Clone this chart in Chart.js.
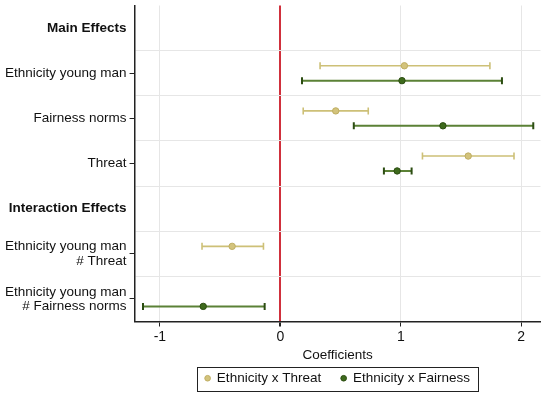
<!DOCTYPE html>
<html>
<head>
<meta charset="utf-8">
<script src="https://cdn.jsdelivr.net/npm/chart.js@4/dist/chart.umd.min.js"></script>
<style>
  html, body { margin: 0; padding: 0; background: #fff; }
  #wrap { width: 546px; height: 397px; }
</style>
</head>
<body>
<div id="wrap"><canvas id="c"></canvas></div>
<script>
// Row labels (index = row position on the y axis, top to bottom)
const rowLabels = ['Main Effects', 'Ethnicity young man', 'Fairness norms', 'Threat', 'Interaction Effects', ['Ethnicity young man', '# Threat'], ['Ethnicity young man', '# Fairness norms']];
const headerRows = [0, 4];
// Coefficient rows (y positions) for the estimates
const coefRows = [1, 2, 3, 5, 6];
// Series: Ethnicity x Threat
const threatEst = [1.03, 0.46, 1.56, -0.40, null];
const threatLo  = [0.33, 0.19, 1.18, -0.65, null];
const threatHi  = [1.74, 0.73, 1.94, -0.14, null];
// Series: Ethnicity x Fairness
const fairEst = [1.01, 1.35, 0.97, null, -0.64];
const fairLo  = [0.18, 0.61, 0.86, null, -1.14];
const fairHi  = [1.84, 2.10, 1.09, null, -0.13];
// X ticks
const xTicks = [-1, 0, 1, 2];
const seriesNames = ['Ethnicity x Threat', 'Ethnicity x Fairness'];

const OFF = 0.165;
const tanLine = '#cdc077', tanPt = '#d3c37c', tanBorder = '#bfae63';
const grnLine = '#5b8136', grnPt = '#3e6a1c', grnBorder = '#2c4d12';

function ciData(lo, hi, off) {
  const out = [];
  coefRows.forEach((r, i) => {
    if (lo[i] === null) return;
    out.push({x: lo[i], y: r + off}, {x: hi[i], y: r + off}, {x: null, y: null});
  });
  return out;
}
function estData(est, off) {
  const out = [];
  coefRows.forEach((r, i) => { if (est[i] !== null) out.push({x: est[i], y: r + off}); });
  return out;
}

const FONT = "'Liberation Sans', Arial, sans-serif";

const legendBox = {
  id: 'legendBox',
  afterDraw(chart) {
    const lg = chart.legend;
    if (!lg || !lg.legendHitBoxes || !lg.legendHitBoxes.length) return;
    const hb = lg.legendHitBoxes;
    const l = Math.min(...hb.map(b => b.left)) - 8;
    const r = Math.max(...hb.map(b => b.left + b.width)) + 8;
    const t = Math.min(...hb.map(b => b.top)) - 5;
    const btm = Math.max(...hb.map(b => b.top + b.height)) + 5;
    const ctx = chart.ctx;
    ctx.save();
    ctx.strokeStyle = '#222';
    ctx.lineWidth = 1;
    ctx.strokeRect(Math.round(l) + 0.5, Math.round(t) + 0.5, Math.round(r - l), Math.round(btm - t));
    ctx.restore();
  }
};

new Chart(document.getElementById('c'), {
  type: 'scatter',
  data: {
    datasets: [
      { type: 'line', label: 'ci-threat', data: ciData(threatLo, threatHi, -OFF), borderColor: tanLine, borderWidth: 1.6,
        spanGaps: false, pointStyle: 'line', pointRotation: 90, pointRadius: 3.5, pointBorderWidth: 1.6, pointBorderColor: tanLine, pointHoverRadius: 3.5, order: 3 },
      { type: 'line', label: 'ci-fair', data: ciData(fairLo, fairHi, OFF), borderColor: grnLine, borderWidth: 2,
        spanGaps: false, pointStyle: 'line', pointRotation: 90, pointRadius: 3.5, pointBorderWidth: 2, pointBorderColor: grnBorder, pointHoverRadius: 3.5, order: 3 },
      { label: seriesNames[0], data: estData(threatEst, -OFF), pointStyle: 'circle', pointRadius: 3.2,
        backgroundColor: tanPt, borderColor: tanBorder, borderWidth: 1, order: 1 },
      { label: seriesNames[1], data: estData(fairEst, OFF), pointStyle: 'circle', pointRadius: 3.2,
        backgroundColor: grnPt, borderColor: grnBorder, borderWidth: 1, order: 1 }
    ]
  },
  options: {
    responsive: true,
    maintainAspectRatio: false,
    animation: false,
    layout: { padding: { left: 2, right: 5, top: 5, bottom: 2 } },
    plugins: {
      tooltip: { enabled: false },
      legend: {
        position: 'bottom',
        fullSize: false,
        labels: {
          filter: (item) => seriesNames.includes(item.text),
          usePointStyle: true, boxWidth: 5, boxHeight: 4, padding: 20,
          color: '#111', font: { family: FONT, size: 13.5 }
        }
      }
    },
    scales: {
      x: {
        type: 'linear', min: -1.21, max: 2.16,
        afterBuildTicks: (s) => { s.ticks = xTicks.map(v => ({value: v})); },
        ticks: { color: '#111', font: { family: FONT, size: 14 }, padding: 2 },
        grid: {
          color: (c) => (c.tick && c.tick.value === 0) ? '#d0303c' : '#e6e6e6',
          lineWidth: (c) => (c.tick && c.tick.value === 0) ? 2 : 1,
          tickColor: '#222', tickLength: 5, drawTicks: true
        },
        border: { display: true, color: '#222', width: 1.5 },
        title: { display: true, text: 'Coefficients', color: '#111', font: { family: FONT, size: 13.5 }, padding: { top: 0, bottom: -12 } }
      },
      y: {
        type: 'linear', min: -0.5, max: 6.5, reverse: true,
        afterBuildTicks: (s) => {
          const t = [];
          for (let v = 0; v <= 12; v++) t.push({value: v / 2});
          s.ticks = t;
        },
        afterFit: (s) => { s.paddingTop = 0; s.paddingBottom = 0; },
        ticks: {
          autoSkip: false, padding: 3, color: '#111',
          callback: (v) => Number.isInteger(v) ? rowLabels[v] : '',
          font: (c) => ({ family: FONT, size: 13.5, weight: (c.tick && headerRows.includes(c.tick.value)) ? 'bold' : 'normal', lineHeight: 1.05 })
        },
        grid: {
          color: (c) => (c.tick && !Number.isInteger(c.tick.value)) ? '#e6e6e6' : 'rgba(0,0,0,0)',
          tickColor: (c) => (c.tick && Number.isInteger(c.tick.value) && !headerRows.includes(c.tick.value)) ? '#222' : 'rgba(0,0,0,0)',
          tickLength: 5, drawTicks: true, lineWidth: 1
        },
        border: { display: true, color: '#222', width: 1.5 }
      }
    }
  },
  plugins: [legendBox]
});
</script>
</body>
</html>
